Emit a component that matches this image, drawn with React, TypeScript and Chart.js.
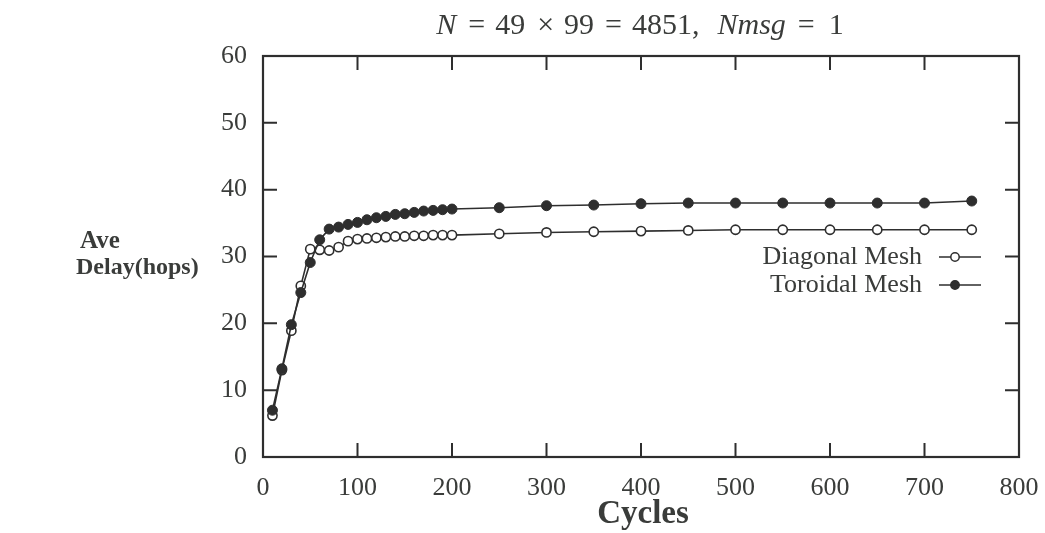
import React, { useEffect, useRef } from "react";
import { Chart, registerables } from "chart.js";

Chart.register(...registerables);

const cycles = [10, 20, 30, 40, 50, 60, 70, 80, 90, 100, 110, 120, 130, 140, 150, 160, 170, 180, 190, 200, 250, 300, 350, 400, 450, 500, 550, 600, 650, 700, 750];
const diagonalMesh = [6.2, 13.0, 18.9, 25.6, 31.1, 31.0, 30.9, 31.4, 32.3, 32.6, 32.7, 32.8, 32.9, 33.0, 33.0, 33.1, 33.1, 33.2, 33.2, 33.2, 33.4, 33.6, 33.7, 33.8, 33.9, 34.0, 34.0, 34.0, 34.0, 34.0, 34.0];
const toroidalMesh = [7.0, 13.2, 19.8, 24.6, 29.1, 32.5, 34.1, 34.4, 34.8, 35.1, 35.5, 35.8, 36.0, 36.3, 36.4, 36.6, 36.8, 36.9, 37.0, 37.1, 37.3, 37.6, 37.7, 37.9, 38.0, 38.0, 38.0, 38.0, 38.0, 38.0, 38.3];
const seriesNames = ["Diagonal Mesh", "Toroidal Mesh"];
const xTicks = [0, 100, 200, 300, 400, 500, 600, 700, 800];
const yTicks = [0, 10, 20, 30, 40, 50, 60];
// [text, italic, gap before (px)]
const titleParts: [string, boolean, number][] = [
  ["N", true, 0], ["=", false, 12], ["49", false, 10], ["×", false, 12], ["99", false, 10],
  ["=", false, 11], ["4851,", false, 10], ["Nmsg", true, 18], ["=", false, 12], ["1", false, 14],
];
const xTitle = "Cycles";
const yTitle = ["Ave", "Delay(hops)"];

const INK = "#2e2e2e";
const TEXT = "#3a3c3a";
const SERIF = "'Liberation Serif', 'DejaVu Serif', serif";

const decorPlugin = {
  id: "decor",
  afterDatasetsDraw(chart: any) {
    const { ctx, chartArea: a, scales } = chart;
    const xs = scales.x, ys = scales.y;
    ctx.save();
    // border
    ctx.strokeStyle = INK;
    ctx.lineWidth = 2.2;
    ctx.strokeRect(a.left, a.top, a.right - a.left, a.bottom - a.top);
    // inward ticks
    const tl = 14;
    ctx.lineWidth = 2;
    ctx.beginPath();
    for (const v of yTicks) {
      const y = ys.getPixelForValue(v);
      ctx.moveTo(a.left, y); ctx.lineTo(a.left + tl, y);
      ctx.moveTo(a.right, y); ctx.lineTo(a.right - tl, y);
    }
    for (const v of xTicks) {
      const x = xs.getPixelForValue(v);
      ctx.moveTo(x, a.bottom); ctx.lineTo(x, a.bottom - tl);
      ctx.moveTo(x, a.top); ctx.lineTo(x, a.top + tl);
    }
    ctx.stroke();

    // x tick labels
    ctx.fillStyle = TEXT;
    ctx.font = `26px ${SERIF}`;
    ctx.textAlign = "center";
    ctx.textBaseline = "middle";
    for (const v of xTicks) {
      ctx.fillText(String(v), xs.getPixelForValue(v), a.bottom + 31);
    }

    // legend (gnuplot style: text then sample)
    ctx.font = `26px ${SERIF}`;
    ctx.textAlign = "right";
    ctx.textBaseline = "middle";
    const textRight = 922;
    const lx0 = 939, lx1 = 981, mx = 955;
    const rows = [
      { y: 257, fill: "#ffffff" },
      { y: 285, fill: INK },
    ];
    rows.forEach((r, i) => {
      ctx.fillStyle = TEXT;
      ctx.fillText(seriesNames[i], textRight, r.y);
      ctx.strokeStyle = INK;
      ctx.lineWidth = 1.6;
      ctx.beginPath();
      ctx.moveTo(lx0, r.y); ctx.lineTo(lx1, r.y);
      ctx.stroke();
      ctx.beginPath();
      ctx.arc(mx, r.y, 4.2, 0, Math.PI * 2);
      ctx.fillStyle = r.fill;
      ctx.fill();
      ctx.lineWidth = 1.5;
      ctx.stroke();
    });

    // title with mixed italics
    ctx.textAlign = "left";
    ctx.textBaseline = "alphabetic";
    const fs = 30;
    let total = 0;
    const widths = titleParts.map(([t, it, g]) => {
      ctx.font = `${it ? "italic " : ""}${fs}px ${SERIF}`;
      const w = ctx.measureText(t).width;
      total += w + g;
      return w;
    });
    let x = 640 - total / 2;
    ctx.fillStyle = TEXT;
    titleParts.forEach(([t, it, g], i) => {
      x += g;
      ctx.font = `${it ? "italic " : ""}${fs}px ${SERIF}`;
      ctx.fillText(t, x, 34);
      x += widths[i];
    });

    // axis titles
    ctx.textAlign = "center";
    ctx.font = `bold 33px ${SERIF}`;
    ctx.fillText(xTitle, 643, 523);
    ctx.textAlign = "left";
    ctx.font = `bold 25px ${SERIF}`;
    ctx.fillText(yTitle[0], 80, 248);
    ctx.font = `bold 24px ${SERIF}`;
    ctx.fillText(yTitle[1], 76, 274);
    ctx.restore();
  },
};

export default function App() {
  const ref = useRef<HTMLCanvasElement | null>(null);
  useEffect(() => {
    if (!ref.current) return;
    const chart = new Chart(ref.current, {
      type: "line",
      data: {
        datasets: [
          {
            label: seriesNames[1],
            data: cycles.map((c, i) => ({ x: c, y: toroidalMesh[i] })),
            borderColor: INK,
            borderWidth: 1.6,
            pointRadius: 5,
            pointBackgroundColor: INK,
            pointBorderColor: INK,
            pointBorderWidth: 1,
            tension: 0,
          },
          {
            label: seriesNames[0],
            data: cycles.map((c, i) => ({ x: c, y: diagonalMesh[i] })),
            borderColor: INK,
            borderWidth: 1.6,
            pointRadius: 4.6,
            pointBackgroundColor: "#ffffff",
            pointBorderColor: INK,
            pointBorderWidth: 1.6,
            tension: 0,
          },
        ],
      },
      options: {
        animation: false,
        responsive: false,
        layout: { padding: { top: 56, right: 26, left: 0, bottom: 0 } },
        plugins: { legend: { display: false }, title: { display: false }, tooltip: { enabled: false } },
        scales: {
          x: {
            type: "linear",
            min: 0,
            max: 800,
            afterBuildTicks: (s: any) => { s.ticks = xTicks.map((v) => ({ value: v })); },
            afterFit: (s: any) => { s.height = 533 - 457; },
            grid: { display: false },
            border: { display: false },
            ticks: { display: false },
          },
          y: {
            type: "linear",
            min: 0,
            max: 60,
            afterBuildTicks: (s: any) => { s.ticks = yTicks.map((v) => ({ value: v })); },
            afterFit: (s: any) => { s.width = 263; },
            grid: { display: false },
            border: { display: false },
            ticks: { color: TEXT, font: { family: SERIF, size: 26 }, padding: 8 },
          },
        },
      },
      plugins: [decorPlugin],
    });
    return () => chart.destroy();
  }, []);
  return (
    <div style={{ position: "fixed", left: 0, top: 0, width: 1045, height: 533, background: "#fff" }}>
      <canvas ref={ref} width={1045} height={533} style={{ display: "block" }} />
    </div>
  );
}
